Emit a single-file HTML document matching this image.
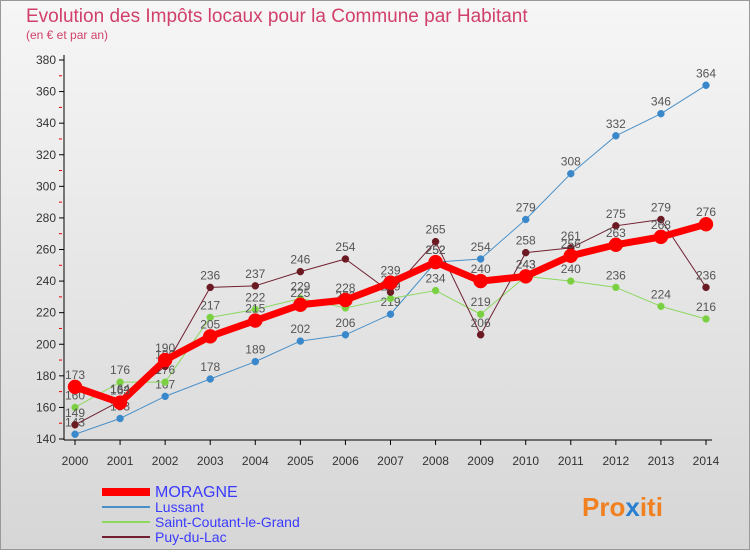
<!DOCTYPE html>
<html><head><meta charset="utf-8"><style>
body{margin:0;width:750px;height:550px;overflow:hidden;font-family:"Liberation Sans",sans-serif}
</style></head><body>
<svg width="750" height="550" xmlns="http://www.w3.org/2000/svg">
<defs><linearGradient id="bg" x1="0" y1="0" x2="0" y2="1"><stop offset="0" stop-color="#f6f6f6"/><stop offset="1" stop-color="#d6d6d6"/></linearGradient></defs>
<rect x="0.5" y="0.5" width="749" height="549" fill="url(#bg)" stroke="#999"/>
<text x="26" y="22" font-size="19" fill="#d0406a">Evolution des Impôts locaux pour la Commune par Habitant</text>
<text x="26" y="39" font-size="12" fill="#d0406a">(en € et par an)</text>
<g id="axes"></g><g id="series"></g><g id="legend"></g>
<text x="582" y="516" font-size="26" font-weight="bold" fill="#f08020">Pro<tspan fill="#2a80d0">x</tspan>iti</text>
</svg>
<script>
const years=[2000,2001,2002,2003,2004,2005,2006,2007,2008,2009,2010,2011,2012,2013,2014];
const yTicks=[140,160,180,200,220,240,260,280,300,320,340,360,380];
const moragne=[173,163,190,205,215,225,228,239,252,240,243,256,263,268,276];
const lussant=[143,153,167,178,189,202,206,219,252,254,279,308,332,346,364];
const saintCoutant=[160,176,176,217,222,229,223,229,234,219,243,240,236,224,216];
const puyDuLac=[149,164,186,236,237,246,254,233,265,206,258,261,275,279,236];
const NS="http://www.w3.org/2000/svg";
const xS=i=>75+i*(706-75)/14;
const yS=v=>439-(v-140)*(439-60)/240;
function mk(tag,attrs,parent){const e=document.createElementNS(NS,tag);for(const k in attrs)e.setAttribute(k,attrs[k]);parent.appendChild(e);return e;}
const ax=document.getElementById('axes');
let l=mk('line',{x1:64,y1:55,x2:64,y2:440,stroke:'#000'},ax);


l=mk('line',{x1:64,y1:440,x2:712,y2:440,stroke:'#000'},ax);


yTicks.forEach((v,i)=>{
 mk('line',{x1:59,y1:yS(v),x2:64,y2:yS(v),stroke:'#000'},ax);
 if(i<yTicks.length-1) mk('line',{x1:59,y1:yS(v+10),x2:62,y2:yS(v+10),stroke:'#e00'},ax);
 const t=mk('text',{x:56,y:yS(v)+4,'font-size':12,'text-anchor':'end',fill:'#333'},ax);t.textContent=v;
 
 
});
years.forEach((y,i)=>{
 mk('line',{x1:xS(i),y1:440,x2:xS(i),y2:445,stroke:'#000'},ax);
 const t=mk('text',{x:xS(i),y:465,'font-size':12,'text-anchor':'middle',fill:'#333'},ax);t.textContent=y;
 
 
});
const sg=document.getElementById('series');
function series(vals,color,w,r,name,pcolor){
 const g=mk('g',{},sg);
 
 
 mk('polyline',{points:vals.map((v,i)=>xS(i)+','+yS(v)).join(' '),fill:'none',stroke:color,'stroke-width':w,'stroke-linejoin':'round'},g);
 vals.forEach((v,i)=>{
  const c=mk('circle',{cx:xS(i),cy:yS(v),r:r,fill:pcolor,stroke:color,'stroke-width':0.5},g);
  
  
  const t=mk('text',{x:xS(i),y:yS(v)-8,'font-size':12,'text-anchor':'middle',fill:'#555'},g);t.textContent=v;
 });
}
series(lussant,'#4a90c8',1,3.5,'lussant-series','#3a88cc');
series(saintCoutant,'#8cd860',1,3.5,'saint-coutant-series','#7ad040');
series(puyDuLac,'#702030',1,3.5,'puy-du-lac-series','#6a1a20');
series(moragne,'#ff0000',7,7,'moragne-series','#ff0000');
const lg=document.getElementById('legend');
const leg=[['MORAGNE','#ff0000',8,16],['Lussant','#4a90c8',2,14],['Saint-Coutant-le-Grand','#8cd860',2,14],['Puy-du-Lac','#702030',2,14]];
leg.forEach((e,i)=>{
 const y=492+i*15;
 const g=mk('g',{},lg);
 
 
 mk('line',{x1:102,y1:y,x2:150,y2:y,stroke:e[1],'stroke-width':e[2]},g);
 const t=mk('text',{x:155,y:y+5,'font-size':e[3],fill:'#3a3aff'},g);t.textContent=e[0];
});
</script>
</body></html>
